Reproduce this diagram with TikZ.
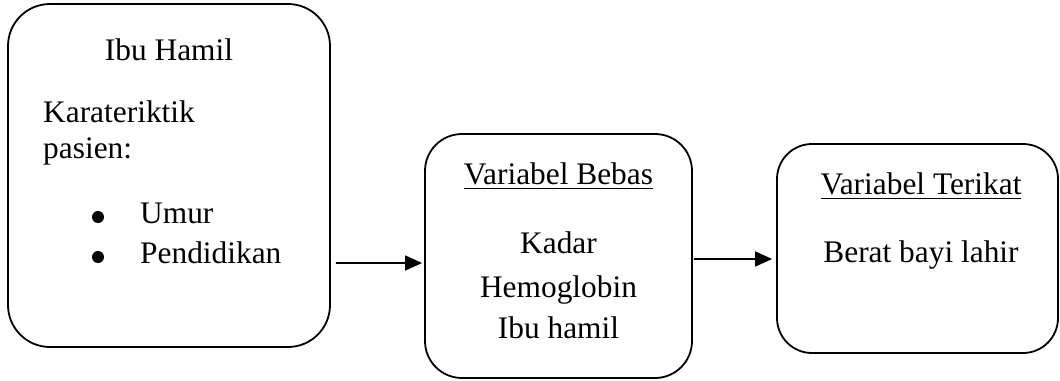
\documentclass[tikz,border=0pt]{standalone}
\usepackage{fontspec}
\setmainfont{Liberation Serif}
\usetikzlibrary{arrows.meta,calc}
\newcommand\myul[1]{\setbox0\hbox{#1}\rlap{\rule[-5.2bp]{\wd0}{1.6bp}}\box0}
\begin{document}
\begin{tikzpicture}[x=1bp,y=-1bp,
  box/.style={draw, line width=1.8bp, inner sep=0pt},
  txt/.style={inner sep=0pt, font=\fontsize{31.5}{38}\selectfont},
  dot/.style={circle, fill, inner sep=0pt, minimum size=12bp},
  arr/.style={line width=1.6bp, -{Triangle[length=17bp,width=15bp]}}]
\useasboundingbox (0,0) rectangle (1060,380);
% boxes
\node[box, rounded corners=42bp, minimum width=322bp, minimum height=343bp] (b1) at (169,175.5) {};
\node[box, rounded corners=37bp, minimum width=267bp, minimum height=244bp] (b2) at (558.5,256) {};
\node[box, rounded corners=35bp, minimum width=281bp, minimum height=209bp] (b3) at (917.5,248.5) {};
% box 1 texts
\node[txt, anchor=base] (t1) at (169,60) {Ibu Hamil};
\node[txt, anchor=base west] (t2) at (43,122) {Karateriktik};
\node[txt, anchor=base west] (t3) at (43,158) {pasien:};
\node[dot] (d1) at (98,217) {};
\node[txt, anchor=base west] (t4) at (140,223) {Umur};
\node[dot] (d2) at (98,257) {};
\node[txt, anchor=base west] (t5) at (140,263) {Pendidikan};
% box 2 texts
\node[txt, anchor=base] (s1) at (558.5,184) {\myul{Variabel Bebas}};
\node[txt, anchor=base] (s2) at (558.5,253) {Kadar};
\node[txt, anchor=base] (s3) at (558.5,297) {Hemoglobin};
\node[txt, anchor=base] (s4) at (558.5,338) {Ibu hamil};
% box 3 texts
\node[txt, anchor=base] (r1) at (921,194) {\myul{Variabel Terikat}};
\node[txt, anchor=base] (r2) at (921,262) {Berat bayi lahir};
% arrows
\draw[arr] ($(b1.east)+(5,87.5)$) -- ($(b2.west)+(-2,7)$);
\draw[arr] ($(b2.east)+(0.9,3)$) -- ($(b3.west)+(-4,10.5)$);
\end{tikzpicture}
\end{document}
